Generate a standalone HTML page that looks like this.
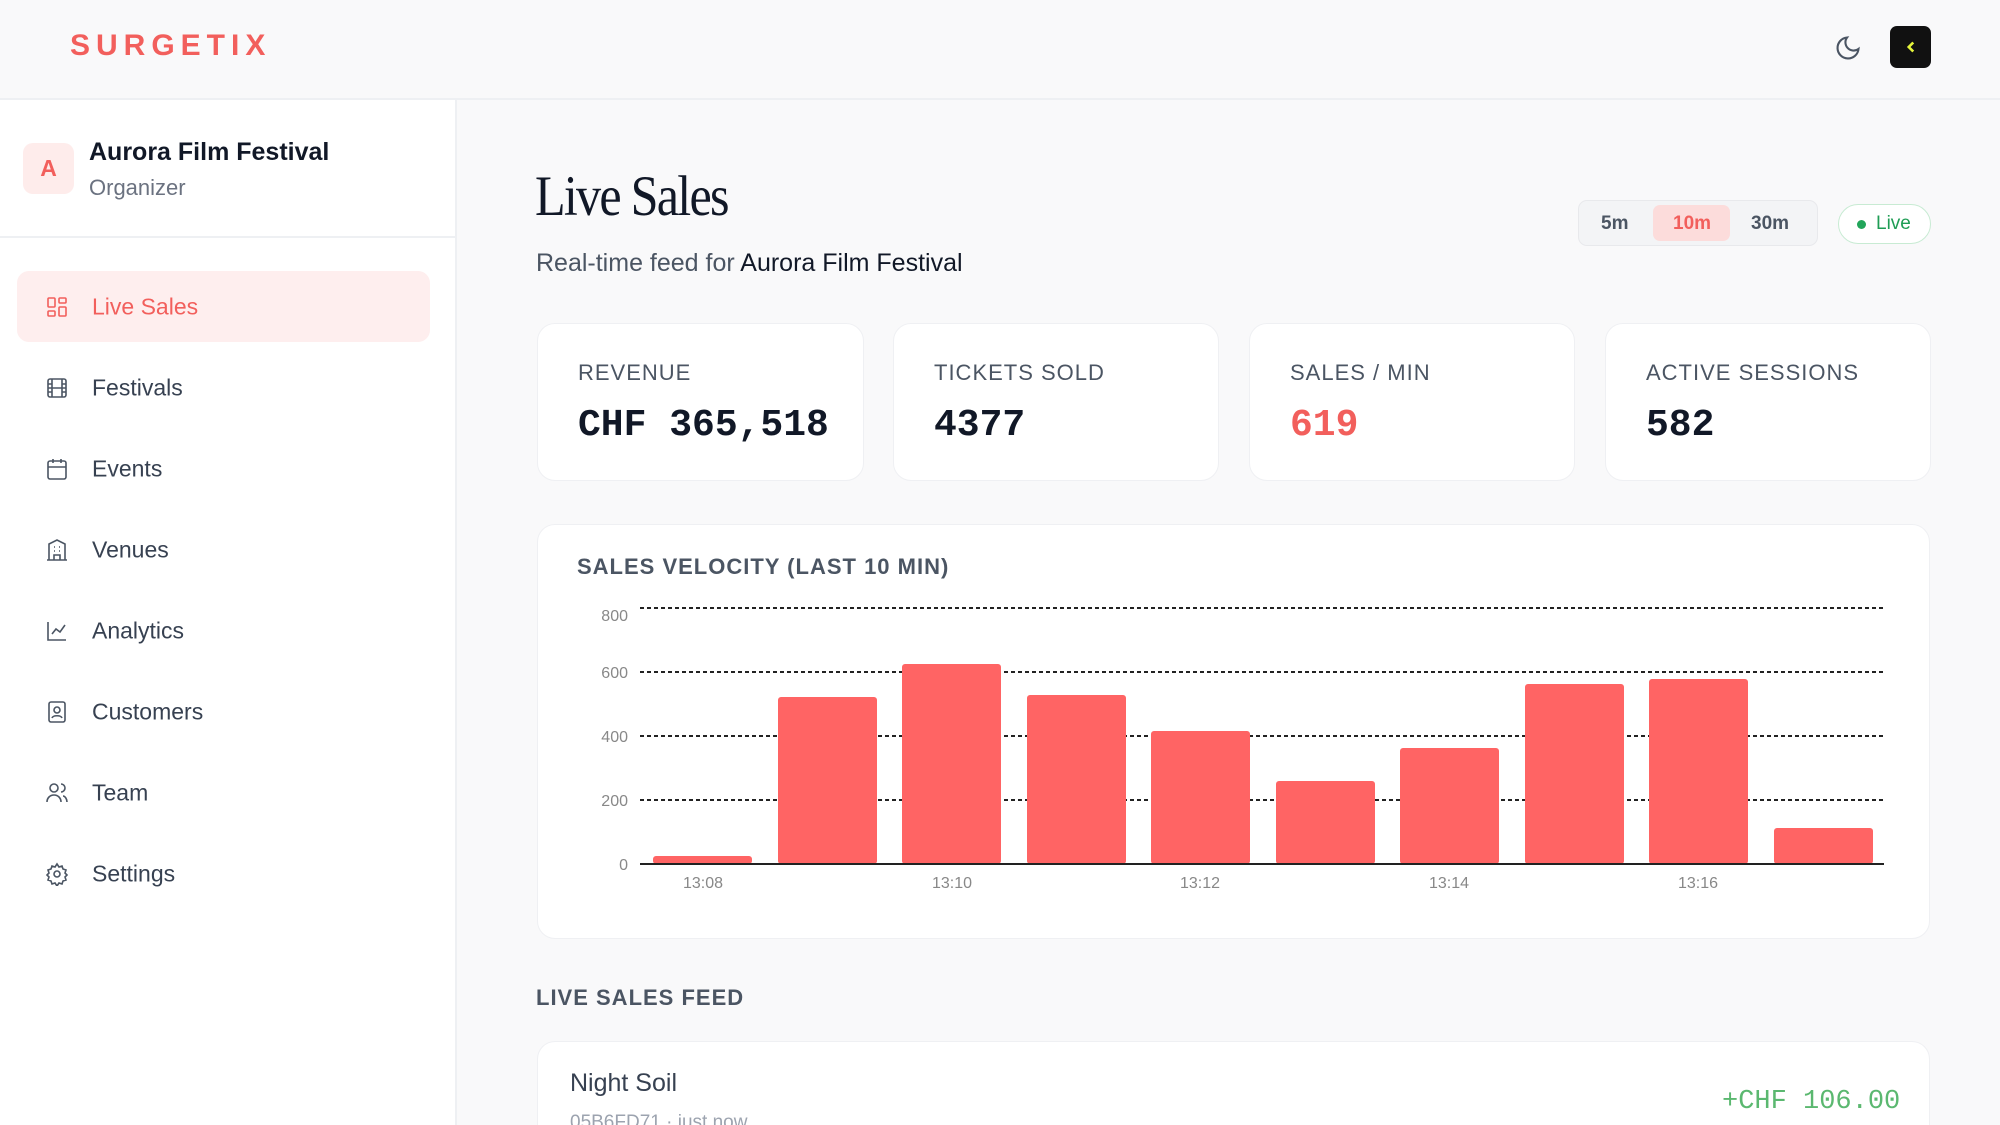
<!DOCTYPE html>
<html style="overflow:hidden;width:2000px;height:1125px"><head><meta charset="utf-8"><style>
*{margin:0;padding:0;box-sizing:border-box}
body{width:2000px;height:1125px;overflow:hidden;background:#f9f9fa;font-family:"Liberation Sans",sans-serif;position:relative;color:#111827}
.a{position:absolute;white-space:nowrap}
.header{position:absolute;left:0;top:0;width:2000px;height:100px;background:#f9f9fa;border-bottom:2px solid #eef0f3}
.side{position:absolute;left:0;top:100px;width:457px;height:1025px;background:#fff;border-right:2px solid #eef0f3}
.nav{position:absolute;left:92px;font-size:23px;color:#374151;transform:translateY(-50%)}
.ic{position:absolute;left:45px;width:24px;height:24px;transform:translateY(-50%)}
.card{position:absolute;background:#fff;border:1.5px solid #eff0f3;border-radius:18px}
.lab{position:absolute;left:40px;top:36px;font-size:22px;letter-spacing:1px;color:#4b5563}
.val{position:absolute;left:40px;top:80px;font-family:"Liberation Mono",monospace;font-weight:bold;font-size:38px;color:#111827}
</style></head><body>
<div class="header"></div>
<div class="a" style="left:70px;top:29px;font-size:30px;font-weight:bold;letter-spacing:6px;color:#f25f5c">SURGETIX</div>
<svg class="a" style="left:1834px;top:34px" width="28" height="28" viewBox="0 0 24 24" fill="none" stroke="#4b5563" stroke-width="1.8"><path d="M21 12.8A9 9 0 1 1 11.2 3a7 7 0 0 0 9.8 9.8z"/></svg>
<div class="a" style="left:1890px;top:26px;width:41px;height:42px;background:#111;border-radius:7px"></div>
<svg class="a" style="left:1902px;top:38px" width="18" height="18" viewBox="0 0 24 24" fill="none" stroke="#e5f53b" stroke-width="3.5"><path d="M15 6l-6 6 6 6"/></svg>

<div class="side"></div>
<div class="a" style="left:23px;top:143px;width:51px;height:51px;background:#feeceb;border-radius:10px;color:#f25f5c;font-size:23px;font-weight:bold;text-align:center;line-height:51px">A</div>
<div class="a" style="left:89px;top:138px;font-size:25px;font-weight:bold;color:#111827">Aurora Film Festival</div>
<div class="a" style="left:89px;top:175px;font-size:22px;color:#6b7280">Organizer</div>
<div class="a" style="left:0;top:236px;width:457px;height:2px;background:#eef0f3"></div>
<div class="a" style="left:17px;top:271px;width:413px;height:71px;background:#feeeee;border-radius:12px"></div>
<svg class="ic" style="top:307px" viewBox="0 0 24 24" fill="none" stroke="#f25f5c" stroke-width="1.6"><rect x="3" y="3" width="7" height="9" rx="1"/><rect x="14" y="3" width="7" height="5" rx="1"/><rect x="14" y="12" width="7" height="9" rx="1"/><rect x="3" y="16" width="7" height="5" rx="1"/></svg>
<div class="nav" style="top:307px;color:#f25f5c">Live Sales</div>
<svg class="ic" style="top:388px" viewBox="0 0 24 24" fill="none" stroke="#4b5563" stroke-width="1.6"><rect x="3" y="3" width="18" height="18" rx="2"/><path d="M7 3v18M17 3v18M3 8h4M3 12h18M3 16h4M17 8h4M17 16h4"/></svg>
<div class="nav" style="top:388px">Festivals</div>
<svg class="ic" style="top:469px" viewBox="0 0 24 24" fill="none" stroke="#4b5563" stroke-width="1.6"><rect x="3" y="4" width="18" height="18" rx="2"/><path d="M16 2v4M8 2v4M3 10h18"/></svg>
<div class="nav" style="top:469px">Events</div>
<svg class="ic" style="top:550px" viewBox="0 0 24 24" fill="none" stroke="#4b5563" stroke-width="1.6"><path d="M4 22V6l8-4 8 4v16M2 22h20M9 22v-5h6v5M9 9h1M14 9h1M9 13h1M14 13h1"/></svg>
<div class="nav" style="top:550px">Venues</div>
<svg class="ic" style="top:631px" viewBox="0 0 24 24" fill="none" stroke="#4b5563" stroke-width="1.6"><path d="M3 3v18h18M7 15l4-5 4 3 5-7"/></svg>
<div class="nav" style="top:631px">Analytics</div>
<svg class="ic" style="top:712px" viewBox="0 0 24 24" fill="none" stroke="#4b5563" stroke-width="1.6"><rect x="4" y="2" width="16" height="20" rx="2"/><circle cx="12" cy="10" r="3"/><path d="M7 18c1-3 9-3 10 0"/></svg>
<div class="nav" style="top:712px">Customers</div>
<svg class="ic" style="top:793px" viewBox="0 0 24 24" fill="none" stroke="#4b5563" stroke-width="1.6"><circle cx="9" cy="7" r="4"/><path d="M2 21c0-4 3-7 7-7s7 3 7 7M16 3a4 4 0 0 1 0 8M22 21c0-3-2-6-4-6"/></svg>
<div class="nav" style="top:793px">Team</div>
<svg class="ic" style="top:874px" viewBox="0 0 24 24" fill="none" stroke="#4b5563" stroke-width="1.6"><circle cx="12" cy="12" r="3"/><path d="M12 2l2 3 3-1 1 3 3 1-1 3 2 2-2 2 1 3-3 1-1 3-3-1-2 3-2-3-3 1-1-3-3-1 1-3-2-2 2-2-1-3 3-1 1-3 3 1z"/></svg>
<div class="nav" style="top:874px">Settings</div>

<div class="a" style="left:535px;top:164px;font-family:'Liberation Serif',serif;font-size:57px;color:#111827;letter-spacing:-2px;transform:scaleX(0.88);transform-origin:left">Live Sales</div>
<div class="a" style="left:536px;top:249px;font-size:25px;color:#4b5563">Real-time feed for <span style="color:#111827">Aurora Film Festival</span></div>

<div class="a" style="left:1578px;top:200px;width:240px;height:46px;background:#f3f4f6;border:1.5px solid #e8e9ec;border-radius:9px"></div>
<div class="a" style="left:1653px;top:205px;width:77px;height:36px;background:#fcdcdb;border-radius:7px"></div>
<div class="a" style="left:1601px;top:213px;font-size:19px;font-weight:bold;color:#4b5563">5m</div>
<div class="a" style="left:1673px;top:213px;font-size:19px;font-weight:bold;color:#f25f5c">10m</div>
<div class="a" style="left:1751px;top:213px;font-size:19px;font-weight:bold;color:#4b5563">30m</div>
<div class="a" style="left:1838px;top:204px;width:93px;height:40px;border:1.5px solid #c8ebd3;border-radius:20px;background:#fff"></div>
<div class="a" style="left:1857px;top:220px;width:9px;height:9px;border-radius:50%;background:#22a55a"></div>
<div class="a" style="left:1876px;top:213px;font-size:19px;color:#1f9d55">Live</div>

<div class="card" style="left:537px;top:323px;width:327px;height:158px"><div class="lab">REVENUE</div><div class="val">CHF 365,518</div></div>
<div class="card" style="left:893px;top:323px;width:326px;height:158px"><div class="lab">TICKETS SOLD</div><div class="val">4377</div></div>
<div class="card" style="left:1249px;top:323px;width:326px;height:158px"><div class="lab">SALES / MIN</div><div class="val" style="color:#f25f5c">619</div></div>
<div class="card" style="left:1605px;top:323px;width:326px;height:158px"><div class="lab">ACTIVE SESSIONS</div><div class="val">582</div></div>

<div class="card" style="left:537px;top:524px;width:1393px;height:415px"></div>
<div class="a" style="left:577px;top:554px;font-size:22px;font-weight:bold;letter-spacing:1px;color:#4b5563">SALES VELOCITY (LAST 10 MIN)</div>
<svg class="a" style="left:0;top:0" width="2000" height="1125">
<g stroke="#222" stroke-width="2" stroke-dasharray="4 3">
<line x1="640" x2="1884" y1="608" y2="608"/><line x1="640" x2="1884" y1="672" y2="672"/><line x1="640" x2="1884" y1="736" y2="736"/><line x1="640" x2="1884" y1="800" y2="800"/></g>
<g fill="#ff6464">
<rect x="653" y="856" width="99" height="8" rx="3"/>
<rect x="778" y="697" width="99" height="167" rx="3"/>
<rect x="902" y="664" width="99" height="200" rx="3"/>
<rect x="1027" y="695" width="99" height="169" rx="3"/>
<rect x="1151" y="731" width="99" height="133" rx="3"/>
<rect x="1276" y="781" width="99" height="83" rx="3"/>
<rect x="1400" y="748" width="99" height="116" rx="3"/>
<rect x="1525" y="684" width="99" height="180" rx="3"/>
<rect x="1649" y="679" width="99" height="185" rx="3"/>
<rect x="1774" y="828" width="99" height="36" rx="3"/></g>
<line x1="640" x2="1884" y1="864" y2="864" stroke="#222" stroke-width="2"/>
<g font-family="Liberation Sans" font-size="16" fill="#888" text-anchor="end">
<text x="628" y="621">800</text><text x="628" y="678">600</text><text x="628" y="742">400</text><text x="628" y="806">200</text><text x="628" y="870">0</text></g>
<g font-family="Liberation Sans" font-size="16" fill="#888" text-anchor="middle">
<text x="703" y="888">13:08</text><text x="952" y="888">13:10</text><text x="1200" y="888">13:12</text><text x="1449" y="888">13:14</text><text x="1698" y="888">13:16</text></g>
</svg>

<div class="a" style="left:536px;top:985px;font-size:22px;font-weight:bold;letter-spacing:1px;color:#4b5563">LIVE SALES FEED</div>
<div class="card" style="left:537px;top:1041px;width:1393px;height:84px;border-bottom:none;border-radius:18px 18px 0 0"></div>
<div class="a" style="left:570px;top:1069px;font-size:25px;color:#374151">Night Soil</div>
<div class="a" style="left:1722px;top:1087px;font-family:'Liberation Mono',monospace;font-size:27px;color:#5bb870">+CHF 106.00</div>
<div class="a" style="left:570px;top:1112px;font-size:19px;color:#9ca3af">05B6FD71 · just now</div>
</body></html>
